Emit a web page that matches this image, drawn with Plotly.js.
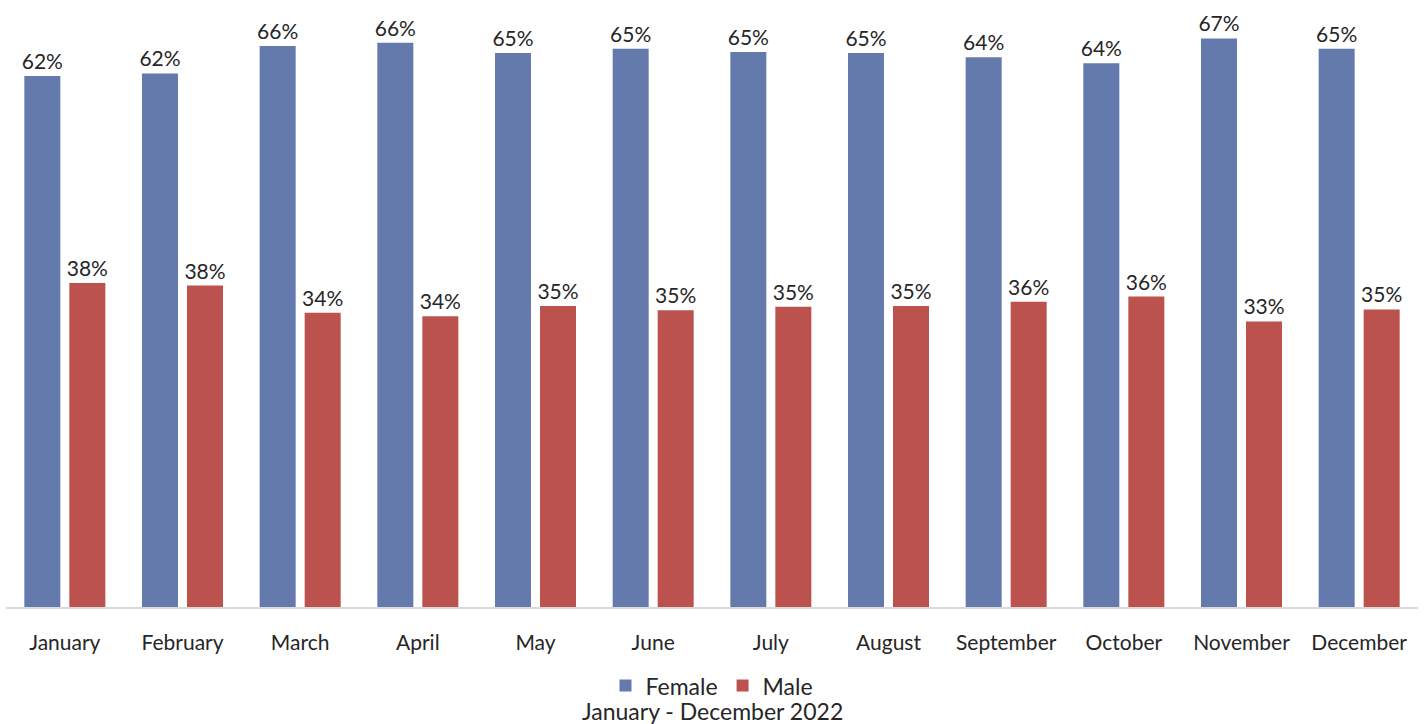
<!DOCTYPE html>
<html>
<head>
<meta charset="utf-8">
<script src="https://cdn.plot.ly/plotly-3.0.1.min.js"></script>
<style>html,body{margin:0;padding:0;background:#fff;}#chart{width:1424px;height:724px;}</style>
</head>
<body>
<div id="chart"></div>
<script>
const months = ["January","February","March","April","May","June","July","August","September","October","November","December"];
const female = [62.1, 62.4, 65.6, 66.0, 64.8, 65.3, 64.9, 64.8, 64.3, 63.6, 66.5, 65.3];
const male = [37.9, 37.6, 34.4, 34.0, 35.2, 34.7, 35.1, 35.2, 35.7, 36.3, 33.4, 34.8];
const seriesNames = ["Female", "Male"];
const subtitle = "January - December 2022";

const fontFam = "Lato, 'Open Sans', sans-serif";
const txtColor = "#262626";

const traces = [
  {type: "bar", name: seriesNames[0], x: months, y: female,
   marker: {color: "#647AAD"},
   texttemplate: "%{y:.0f}%", textposition: "outside", cliponaxis: false, constraintext: "none",
   textfont: {family: fontFam, size: 21, color: txtColor}, hoverinfo: "x+y"},
  {type: "bar", name: seriesNames[1], x: months, y: male,
   marker: {color: "#BC524D"},
   texttemplate: "%{y:.0f}%", textposition: "outside", cliponaxis: false, constraintext: "none",
   textfont: {family: fontFam, size: 21, color: txtColor}, hoverinfo: "x+y"}
];

const layout = {
  width: 1424, height: 724,
  margin: {l: 6, r: 6, t: 20, b: 116.5},
  paper_bgcolor: "#fff", plot_bgcolor: "#fff",
  barmode: "group", bargap: 0.235, bargroupgap: 0.2,
  font: {family: fontFam, color: txtColor},
  xaxis: {showline: true, linecolor: "#D9D9D9", linewidth: 1.5, ticks: "",
          tickfont: {family: fontFam, size: 21, color: txtColor}, ticklabelstandoff: 16,
          showgrid: false, zeroline: false, fixedrange: true},
  yaxis: {range: [0, 68.65], visible: false, showgrid: false, zeroline: false, fixedrange: true},
  showlegend: true,
  legend: {orientation: "h", x: 0.5, xanchor: "center", y: -0.134, yanchor: "middle",
           font: {family: fontFam, size: 23, color: txtColor}, itemwidth: 30, tracegroupgap: 0},
  annotations: [{text: subtitle, xref: "paper", yref: "paper", x: 0.5, y: -0.178,
                 xanchor: "center", yanchor: "middle", showarrow: false,
                 font: {family: fontFam, size: 23, color: txtColor}}]
};

Plotly.newPlot("chart", traces, layout, {displayModeBar: false, staticPlot: true});
</script>
</body>
</html>
